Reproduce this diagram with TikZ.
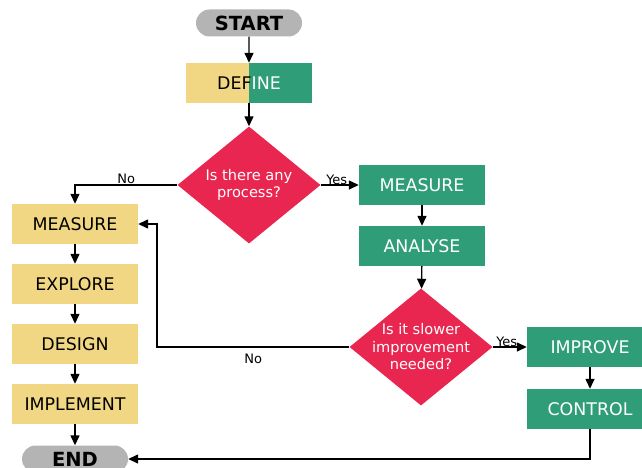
\documentclass[tikz,border=0pt]{standalone}
\usepackage{fontspec}
\setmainfont{DejaVu Sans}
\usetikzlibrary{shapes.geometric,shapes.misc,arrows.meta}
\definecolor{ybox}{HTML}{F1D784}
\definecolor{gbox}{HTML}{2F9E78}
\definecolor{rdia}{HTML}{E9264F}
\definecolor{gterm}{HTML}{B4B4B4}
\tikzset{
ybx/.style={fill=ybox, minimum width=126pt, minimum height=40pt, inner sep=0pt, font=\fontsize{17.4}{20}\selectfont},
gbx/.style={ybx, fill=gbox, text=white},
term/.style={rounded rectangle, fill=gterm, minimum width=106pt, minimum height=27pt, inner sep=0pt, font=\bfseries\fontsize{19.5}{22}\selectfont},
dia/.style={diamond, fill=rdia, inner sep=0pt, minimum width=143pt, minimum height=117pt},
qtxt/.style={text=white, align=center, font=\fontsize{14.6}{17.5}\selectfont},
arr/.style={-{Triangle[length=10pt,width=9pt]}, line width=1.4pt},
lbl/.style={font=\fontsize{13}{15}\selectfont}
}
\begin{document}
\begin{tikzpicture}[x=1pt,y=-1pt]
\useasboundingbox (0,0) rectangle (642,468);
\node[term] (t1) at (249,23) {START};
\node[ybx, path picture={\fill[gbox] (path picture bounding box.north) rectangle (path picture bounding box.south east);}] (d1) at (249,83) {DEF\color{white}INE};
\node[dia, label={[qtxt]center:{Is there any\\process?}}] (q1) at (249,185) {};
\node[gbx] (g1) at (422,185) {MEASURE};
\node[gbx] (g2) at (422,246) {ANALYSE};
\node[dia, label={[qtxt]center:{Is it slower\\improvement\\needed?}}] (q2) at (421,347) {};
\node[gbx] (g3) at (590,347) {IMPROVE};
\node[gbx] (g4) at (590,409) {CONTROL};
\node[ybx] (y1) at (75,224) {MEASURE};
\node[ybx] (y2) at (75,284) {EXPLORE};
\node[ybx] (y3) at (75,344) {DESIGN};
\node[ybx] (y4) at (75,404) {IMPLEMENT};
\node[term] (t2) at (75,459) {END};
\coordinate (k1) at (157,347);
\draw[arr]  (t1) -- (d1);
\draw[arr]  (d1) -- (q1);
\draw[arr]  (q1.west) -| node[lbl, pos=0.25, above, inner sep=1pt] {No} (y1.north);
\draw[arr]  (q1.east) -- node[lbl, above, inner sep=0pt, xshift=-3pt] {Yes} (g1.west);
\draw[arr]  (g1) -- (g2);
\draw[arr]  (g2) -- (q2);
\draw[arr]  (q2.east) -- node[lbl, above, inner sep=0pt, xshift=-3pt] {Yes} (g3.west);
\draw[arr]  (g3) -- (g4);
\draw[arr]  (q2.west) -- node[lbl, below, inner sep=6pt] {No} (k1) |- (y1.east);
\draw[arr]  (y1) -- (y2);
\draw[arr]  (y2) -- (y3);
\draw[arr]  (y3) -- (y4);
\draw[arr]  (y4) -- (t2);
\draw[arr]  (g4.south) |- (t2.east);
\end{tikzpicture}
\end{document}
